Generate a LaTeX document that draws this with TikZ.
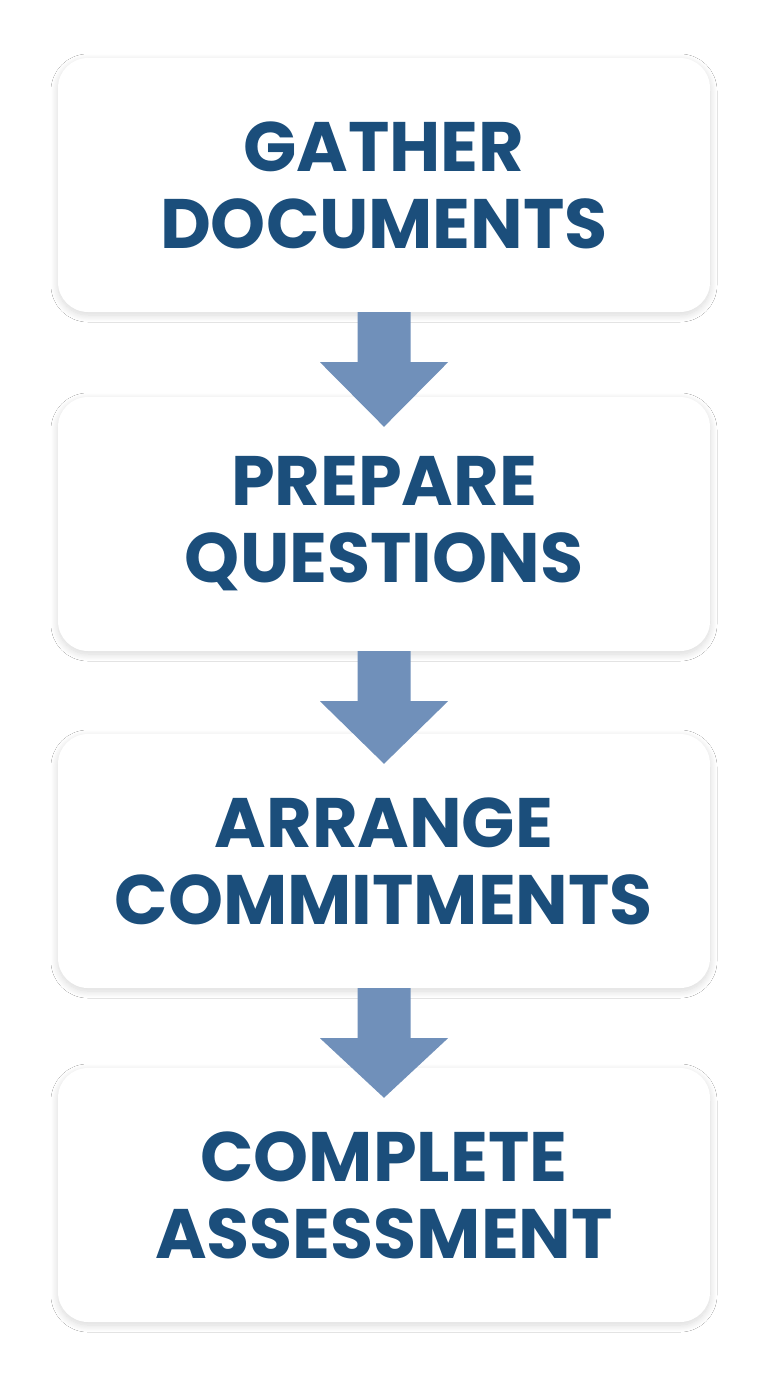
\documentclass[tikz,border=0pt]{standalone}
\usepackage{fontspec}
\setmainfont{Poppins}[UprightFont=* Bold]
\usetikzlibrary{calc,shadows.blur}
\definecolor{txtblue}{HTML}{1B4E7B}
\definecolor{arrowblue}{HTML}{7090BA}
\tikzset{
  stepbox/.style={rectangle, rounded corners=30pt, fill=white, minimum width=652pt, minimum height=254pt,
    blur shadow={shadow xshift=0pt, shadow yshift=-3pt, shadow blur radius=7pt, shadow blur steps=20, shadow opacity=16},
    text=txtblue, align=center, font=\fontsize{70}{77}\selectfont, inner sep=0pt},
  flowarrow/.style={fill=arrowblue}
}
\newcommand{\downarrowshape}[2]{%
  \fill[flowarrow] ($(#1.south)+(-26.5,0)$) -- ($(#1.south)+(26.5,0)$) -- ($(#1.south)+(26.5,50)$) -- ($(#1.south)+(64,50)$)
    -- ($(#2.north)+(0,30)$) -- ($(#1.south)+(-64,50)$) -- ($(#1.south)+(-26.5,50)$) -- cycle;}
\begin{document}
\begin{tikzpicture}[x=1pt,y=-1pt]
\useasboundingbox (0,0) rectangle (768,1376);
\fill[white] (0,0) rectangle (768,1376);
\node[stepbox] (b1) at (384,185) {GATHER\\DOCUMENTS};
\node[stepbox] (b2) at (384,524) {PREPARE\\QUESTIONS};
\node[stepbox] (b3) at (384,861) {ARRANGE\\COMMITMENTS};
\node[stepbox] (b4) at (384,1195) {COMPLETE\\ASSESSMENT};
\downarrowshape{b1}{b2}
\downarrowshape{b2}{b3}
\downarrowshape{b3}{b4}
\end{tikzpicture}
\end{document}
